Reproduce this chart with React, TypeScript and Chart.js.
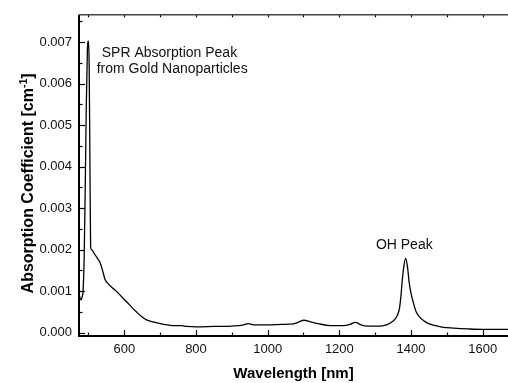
import { useEffect, useRef } from "react";
import { Chart, registerables } from "chart.js";

Chart.register(...registerables);

// Wavelength (nm)
const wavelengths = [
  474, 477, 479, 482, 485, 488, 491, 494, 497, 500, 502, 504, 506, 510, 515, 520,
  526, 532, 540, 546, 556, 568, 579, 593, 607, 621, 635, 648, 662, 680, 700, 720,
  740, 760, 775, 800, 850, 900, 930, 946, 960, 1000, 1040, 1071, 1085, 1101, 1120,
  1140, 1174, 1211, 1230, 1245, 1260, 1280, 1313, 1335, 1350, 1362, 1368, 1372,
  1376, 1380, 1385, 1390, 1395, 1400, 1406, 1415, 1425, 1440, 1462, 1490, 1518,
  1560, 1600, 1671,
];

// Absorption coefficient (cm^-1)
const absorption = [
  0.00092, 0.00082, 0.00079, 0.00085, 0.00102, 0.0018, 0.0035, 0.0055, 0.0068,
  0.00703, 0.0064, 0.0042, 0.00207, 0.00199, 0.00192, 0.00186, 0.00178, 0.0017,
  0.00148, 0.00129, 0.00117, 0.00107, 0.00099, 0.00086, 0.00074, 0.00061, 0.00049,
  0.00039, 0.00031, 0.00026, 0.00022, 0.00019, 0.00017, 0.00017, 0.00015, 0.00014,
  0.00015, 0.00016, 0.00018, 0.00022, 0.00019, 0.00019, 0.0002, 0.00021, 0.00025,
  0.0003, 0.00026, 0.00022, 0.00017, 0.00017, 0.0002, 0.00025, 0.00019, 0.00016,
  0.00016, 0.0002, 0.00028, 0.00042, 0.0006, 0.0009, 0.0013, 0.0016, 0.00179,
  0.0016, 0.0012, 0.00095, 0.00074, 0.00049, 0.00037, 0.00026, 0.00018, 0.00013,
  0.00011, 0.00009, 0.00008, 0.00008,
];

const xTickValues = [600, 800, 1000, 1200, 1400, 1600];
const yTickValues = [0, 0.001, 0.002, 0.003, 0.004, 0.005, 0.006, 0.007];

const xTitle = "Wavelength [nm]";
const yTitleMain = "Absorption Coefficient [cm";
const yTitleSup = "-1";
const yTitleEnd = "]";

const annotationTexts = ["SPR Absorption Peak", "from Gold Nanoparticles", "OH Peak"];
const annotationX = [537, 523, 1302];
const annotationY = [0.006635, 0.00625, 0.002005];

const FONT = '"Liberation Sans", Arial, Helvetica, sans-serif';

function minorValues(major: number[], min: number, max: number) {
  const step = major[1] - major[0];
  const out: { v: number; major: boolean }[] = [];
  const start = major[0] - Math.ceil((major[0] - min) / (step / 2)) * (step / 2);
  for (let k = 0; ; k++) {
    const v = start + (k * step) / 2;
    if (v > max + 1e-12) break;
    if (v < min - 1e-12) continue;
    const isMajor = major.some((m) => Math.abs(m - v) < step * 1e-6);
    out.push({ v, major: isMajor });
  }
  return out;
}

const axesPlugin = {
  id: "inwardAxes",
  afterDraw(chart: any) {
    const { ctx, chartArea, scales } = chart;
    const { left, right, top, bottom } = chartArea;
    const x = scales.x;
    const y = scales.y;
    ctx.save();

    // ticks
    ctx.strokeStyle = "#000";
    ctx.lineWidth = 1.2;
    const xt = minorValues(xTickValues, x.min, x.max);
    xt.forEach(({ v, major }) => {
      const px = Math.round(x.getPixelForValue(v)) + 0.5;
      const len = major ? 6 : 3.5;
      ctx.beginPath();
      ctx.moveTo(px, bottom);
      ctx.lineTo(px, bottom - len);
      ctx.stroke();
      ctx.beginPath();
      ctx.moveTo(px, top);
      ctx.lineTo(px, top + 2.5);
      ctx.stroke();
    });
    const yt = minorValues(yTickValues, y.min, y.max);
    yt.forEach(({ v, major }) => {
      const py = Math.round(y.getPixelForValue(v)) + 0.5;
      const len = major ? 6 : 3.5;
      ctx.beginPath();
      ctx.moveTo(left, py);
      ctx.lineTo(left + len, py);
      ctx.stroke();
    });

    // axis lines
    ctx.lineWidth = 2;
    ctx.strokeStyle = "#000";
    ctx.beginPath();
    ctx.moveTo(left, top);
    ctx.lineTo(left, bottom);
    ctx.lineTo(right, bottom);
    ctx.stroke();
    ctx.lineWidth = 1.5;
    ctx.strokeStyle = "#444";
    ctx.beginPath();
    ctx.moveTo(left, top);
    ctx.lineTo(right, top);
    ctx.stroke();

    // annotations
    ctx.fillStyle = "#111";
    ctx.font = `14px ${FONT}`;
    ctx.textAlign = "left";
    ctx.textBaseline = "alphabetic";
    annotationTexts.forEach((t, i) => {
      ctx.fillText(t, x.getPixelForValue(annotationX[i]), y.getPixelForValue(annotationY[i]));
    });

    // y title with superscript
    const mainFont = `bold 16px ${FONT}`;
    const supFont = `bold 10.5px ${FONT}`;
    ctx.font = mainFont;
    const w1 = ctx.measureText(yTitleMain).width;
    const w3 = ctx.measureText(yTitleEnd).width;
    ctx.font = supFont;
    const w2 = ctx.measureText(yTitleSup).width;
    const total = w1 + w2 + w3;
    const cx = 29;
    const cy = (top + bottom) / 2 + 8;
    ctx.translate(cx, cy);
    ctx.rotate(-Math.PI / 2);
    ctx.textBaseline = "middle";
    ctx.fillStyle = "#000";
    let pos = -total / 2;
    ctx.font = mainFont;
    ctx.fillText(yTitleMain, pos, 0);
    pos += w1;
    ctx.font = supFont;
    ctx.fillText(yTitleSup, pos, -5);
    pos += w2;
    ctx.font = mainFont;
    ctx.fillText(yTitleEnd, pos, 0);

    ctx.restore();
  },
};

export default function App() {
  const canvasRef = useRef<HTMLCanvasElement | null>(null);

  useEffect(() => {
    if (!canvasRef.current) return;
    const points = wavelengths.map((w, i) => ({ x: w, y: absorption[i] }));
    const chart = new Chart(canvasRef.current, {
      type: "line",
      data: {
        datasets: [
          {
            data: points,
            borderColor: "#000",
            borderWidth: 1.3,
            pointRadius: 0,
            fill: false,
            cubicInterpolationMode: "monotone",
          },
        ],
      },
      options: {
        responsive: false,
        animation: false,
        devicePixelRatio: 1,
        layout: { padding: { top: 14, right: 0, left: 0, bottom: 0 } },
        plugins: {
          legend: { display: false },
          tooltip: { enabled: false },
        },
        scales: {
          x: {
            type: "linear",
            min: 473.6,
            max: 1670.6,
            grid: { display: false, drawTicks: false },
            border: { display: false },
            afterFit: (s: any) => {
              s.height = 47;
            },
            afterBuildTicks: (s: any) => {
              s.ticks = xTickValues.map((v) => ({ value: v }));
            },
            ticks: {
              padding: 6,
              maxRotation: 0,
              autoSkip: false,
              color: "#111",
              font: { family: FONT, size: 13 },
              callback: (v: any) => String(v),
            },
            title: {
              display: true,
              text: xTitle,
              color: "#000",
              font: { family: FONT, size: 15, weight: "bold" },
              padding: { top: 0, bottom: 0 },
            },
          },
          y: {
            type: "linear",
            min: -0.00008,
            max: 0.00766,
            grid: { display: false, drawTicks: false },
            border: { display: false },
            afterFit: (s: any) => {
              s.width = 79;
            },
            afterBuildTicks: (s: any) => {
              s.ticks = yTickValues.map((v) => ({ value: v }));
            },
            ticks: {
              padding: 7,
              autoSkip: false,
              color: "#111",
              font: { family: FONT, size: 13 },
              callback: (v: any) => Number(v).toFixed(3),
            },
          },
        },
      },
      plugins: [axesPlugin],
    });
    return () => chart.destroy();
  }, []);

  return (
    <div style={{ position: "absolute", left: 0, top: 0, width: 508, height: 383, background: "#fff" }}>
      <canvas ref={canvasRef} width={508} height={383} style={{ display: "block" }} />
    </div>
  );
}
